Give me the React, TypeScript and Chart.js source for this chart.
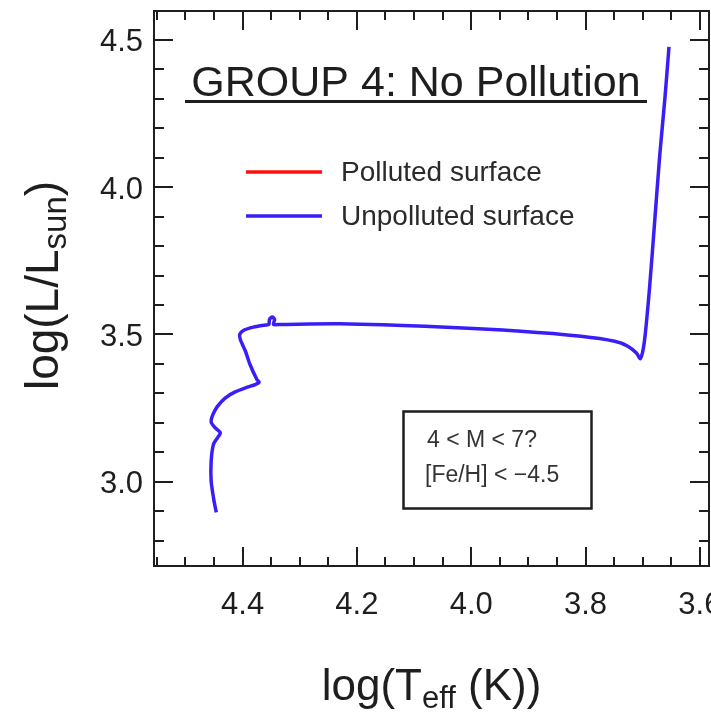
import React, { useEffect, useRef } from "react";
import { Chart, registerables } from "chart.js";

Chart.register(...registerables);

// Evolutionary track: effective temperature and luminosity (log scale)
const logTeff = [
  4.446, 4.45, 4.455, 4.455, 4.451, 4.444, 4.439, 4.448, 4.455, 4.452, 4.444,
  4.43, 4.413, 4.392, 4.378, 4.371, 4.375, 4.387, 4.395, 4.404, 4.405, 4.398,
  4.381, 4.36, 4.354, 4.353, 4.348, 4.344, 4.346, 4.334, 4.229, 4.053, 3.913,
  3.808, 3.749, 3.726, 3.711, 3.704, 3.697, 3.688, 3.679, 3.67, 3.661, 3.654,
];
const logL = [
  2.896, 2.935, 3.002, 3.07, 3.127, 3.149, 3.166, 3.183, 3.203, 3.228, 3.256,
  3.285, 3.305, 3.321, 3.33, 3.338, 3.347, 3.398, 3.443, 3.483, 3.5, 3.514,
  3.525, 3.532, 3.534, 3.551, 3.559, 3.551, 3.534, 3.534, 3.536, 3.525, 3.511,
  3.494, 3.477, 3.46, 3.437, 3.418, 3.477, 3.658, 3.885, 4.112, 4.305, 4.476,
];
// No polluted-surface track in this group
const pollutedTeff: number[] = [];
const pollutedL: number[] = [];

const xTickValues = [4.4, 4.2, 4.0, 3.8, 3.6];
const xTickLabels = ["4.4", "4.2", "4.0", "3.8", "3.6"];
const yTickValues = [3.0, 3.5, 4.0, 4.5];
const yTickLabels = ["3.0", "3.5", "4.0", "4.5"];

const seriesLabels = ["Polluted surface", "Unpolluted surface"];
const titleText = "GROUP 4: No Pollution";
const boxLines = ["4 < M < 7?", "[Fe/H] < \u22124.5"];

const X_MIN = 3.584;
const X_MAX = 4.555;
const Y_MIN = 2.714;
const Y_MAX = 4.598;

const FONT = '"Liberation Sans", Arial, Helvetica, sans-serif';
const INK = "#1e1e1e";

type Run = { t: string; size: number; dy: number };

function drawRuns(ctx: CanvasRenderingContext2D, runs: Run[], x: number, y: number) {
  let cx = x;
  for (const r of runs) {
    ctx.font = `${r.size}px ${FONT}`;
    ctx.fillText(r.t, cx, y + r.dy);
    cx += ctx.measureText(r.t).width;
  }
  return cx - x;
}

function runsWidth(ctx: CanvasRenderingContext2D, runs: Run[]) {
  let w = 0;
  for (const r of runs) {
    ctx.font = `${r.size}px ${FONT}`;
    w += ctx.measureText(r.t).width;
  }
  return w;
}

const decorations = {
  id: "hrDecorations",
  afterDraw(chart: any) {
    const { ctx, chartArea: a, scales } = chart;
    const xs = scales.x;
    const ys = scales.y;
    ctx.save();

    // frame
    ctx.strokeStyle = INK;
    ctx.lineWidth = 2;
    ctx.strokeRect(a.left, a.top, a.right - a.left, a.bottom - a.top);

    // x ticks (every 0.05, major every 0.2), on bottom and top edges
    for (let i = 72; i <= 91; i++) {
      const v = i * 0.05;
      if (v < X_MIN || v > X_MAX) continue;
      const major = i % 4 === 0;
      const len = major ? 19 : 9;
      const px = Math.round(xs.getPixelForValue(v));
      ctx.beginPath();
      ctx.moveTo(px, a.bottom);
      ctx.lineTo(px, a.bottom - len);
      ctx.moveTo(px, a.top);
      ctx.lineTo(px, a.top + len);
      ctx.stroke();
    }
    // y ticks (every 0.1, major every 0.5), on left and right edges
    for (let i = 27; i <= 46; i++) {
      const v = i * 0.1;
      if (v < Y_MIN || v > Y_MAX) continue;
      const major = i % 5 === 0;
      const len = major ? 19 : 10;
      const py = Math.round(ys.getPixelForValue(v));
      ctx.beginPath();
      ctx.moveTo(a.left, py);
      ctx.lineTo(a.left + len, py);
      ctx.moveTo(a.right, py);
      ctx.lineTo(a.right - len, py);
      ctx.stroke();
    }

    // tick labels
    ctx.fillStyle = INK;
    ctx.font = `31px ${FONT}`;
    ctx.textAlign = "center";
    ctx.textBaseline = "alphabetic";
    xTickValues.forEach((v, i) => {
      ctx.fillText(xTickLabels[i], xs.getPixelForValue(v), 614);
    });
    ctx.textAlign = "right";
    ctx.textBaseline = "middle";
    yTickValues.forEach((v, i) => {
      ctx.fillText(yTickLabels[i], a.left - 11, ys.getPixelForValue(v) + 3);
    });

    // axis titles
    ctx.textAlign = "left";
    ctx.textBaseline = "alphabetic";
    const xRuns: Run[] = [
      { t: "log(T", size: 44, dy: 0 },
      { t: "eff", size: 31, dy: 8 },
      { t: " (K))", size: 44, dy: 0 },
    ];
    const xw = runsWidth(ctx, xRuns);
    drawRuns(ctx, xRuns, (a.left + a.right) / 2 - xw / 2, 700);

    const yRuns: Run[] = [
      { t: "log(L/L", size: 46, dy: 0 },
      { t: "sun", size: 33, dy: 8 },
      { t: ")", size: 46, dy: 0 },
    ];
    const yw = runsWidth(ctx, yRuns);
    ctx.save();
    ctx.translate(58, (a.top + a.bottom) / 2 - 3);
    ctx.rotate(-Math.PI / 2);
    drawRuns(ctx, yRuns, -yw / 2, 0);
    ctx.restore();

    // underlined panel title
    ctx.font = `43px ${FONT}`;
    ctx.textAlign = "left";
    const tw = ctx.measureText(titleText).width;
    ctx.fillText(titleText, 416 - tw / 2, 96);
    ctx.fillRect(185, 100, 462, 3);

    // legend, built from the datasets
    chart.data.datasets.forEach((ds: any, i: number) => {
      const ly = 172 + i * 44;
      ctx.strokeStyle = ds.borderColor;
      ctx.lineWidth = 3.5;
      ctx.beginPath();
      ctx.moveTo(246, ly);
      ctx.lineTo(322, ly);
      ctx.stroke();
      ctx.fillStyle = "#2a2a2a";
      ctx.font = `28px ${FONT}`;
      ctx.textBaseline = "middle";
      ctx.fillText(ds.label, 341, ly + 1);
    });

    // parameter box
    ctx.strokeStyle = INK;
    ctx.lineWidth = 2.5;
    ctx.strokeRect(403.5, 411.5, 188, 97);
    ctx.fillStyle = "#333";
    ctx.textBaseline = "alphabetic";
    ctx.font = `23px ${FONT}`;
    ctx.fillText(boxLines[0], 427, 447);
    ctx.fillText(boxLines[1], 425, 482);

    ctx.restore();
  },
};

export default function App() {
  const canvasRef = useRef<HTMLCanvasElement | null>(null);

  useEffect(() => {
    const canvas = canvasRef.current;
    if (!canvas) return;
    const chart = new Chart(canvas, {
      type: "scatter",
      data: {
        datasets: [
          {
            label: seriesLabels[0],
            data: pollutedTeff.map((t, i) => ({ x: t, y: pollutedL[i] })),
            borderColor: "#ff1010",
            backgroundColor: "#ff1010",
            showLine: true,
            pointRadius: 0,
            borderWidth: 3.5,
          },
          {
            label: seriesLabels[1],
            data: logTeff.map((t, i) => ({ x: t, y: logL[i] })),
            borderColor: "#3a1ef8",
            backgroundColor: "#3a1ef8",
            showLine: true,
            pointRadius: 0,
            borderWidth: 3.5,
            tension: 0.25,
          },
        ],
      },
      options: {
        animation: false,
        responsive: false,
        devicePixelRatio: 1,
        layout: { padding: { left: 154, top: 11, right: 2, bottom: 148 } },
        plugins: {
          legend: { display: false },
          tooltip: { enabled: false },
          title: { display: false },
        },
        scales: {
          x: { type: "linear", reverse: true, min: X_MIN, max: X_MAX, display: false },
          y: { type: "linear", min: Y_MIN, max: Y_MAX, display: false },
        },
      },
      plugins: [decorations],
    });
    return () => chart.destroy();
  }, []);

  return (
    <div style={{ position: "absolute", left: 0, top: 0, width: 711, height: 714, background: "#fff" }}>
      <canvas ref={canvasRef} width={711} height={714} />
    </div>
  );
}
